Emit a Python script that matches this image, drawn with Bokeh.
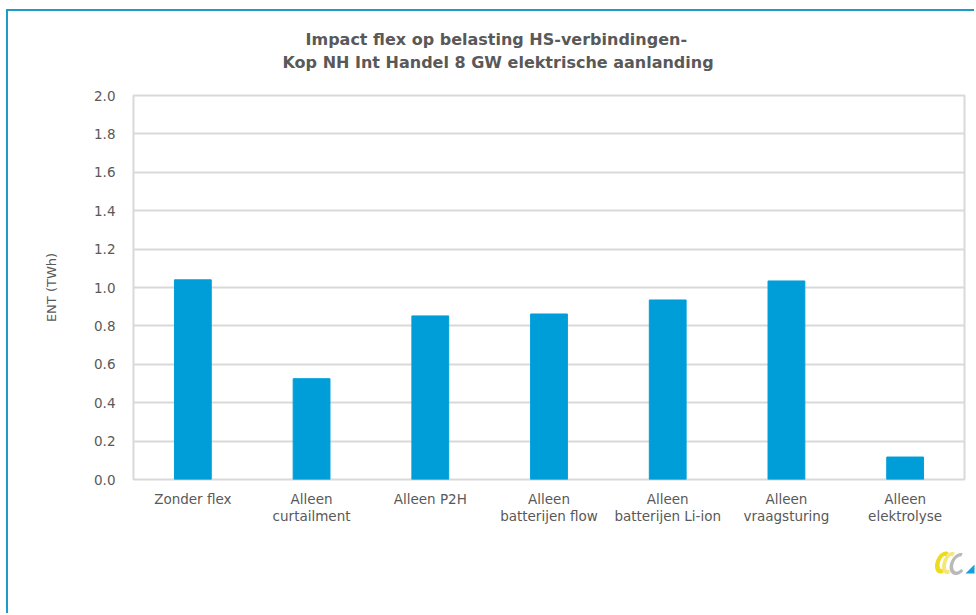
import math

from bokeh.plotting import figure
from bokeh.layouts import column, row
from bokeh.models import FixedTicker, Title, CustomJSTickFormatter, Range1d, Spacer
from bokeh.embed import file_html
from bokeh.resources import INLINE

categories = [
    "Zonder flex",
    "Alleen\ncurtailment",
    "Alleen P2H",
    "Alleen\nbatterijen flow",
    "Alleen\nbatterijen Li-ion",
    "Alleen\nvraagsturing",
    "Alleen\nelektrolyse",
]
ent_twh = [1.04, 0.525, 0.852, 0.862, 0.935, 1.034, 0.117]
y_ticks = [0.0, 0.2, 0.4, 0.6, 0.8, 1.0, 1.2, 1.4, 1.6, 1.8, 2.0]

title_lines = [
    "Impact flex op belasting HS-verbindingen-",
    "Kop NH Int Handel 8 GW elektrische aanlanding",
]

FONT = "DejaVu Sans"
TEXT = "#595959"
GRID = "#d9d9d9"
BAR = "#009ed9"
FRAME_BLUE = "#1f9bc8"
EDGE = f"2px solid {FRAME_BLUE}"

W, H = 968, 537
p = figure(
    x_range=categories,
    y_range=Range1d(0, 2.0),
    width=W,
    height=H,
    output_backend="svg",
    toolbar_location=None,
    min_border_left=125,
    min_border_right=12,
    min_border_top=84,
    min_border_bottom=69,
    styles={
        "margin-left": "6px",
        "margin-top": "9px",
        "border-left": EDGE,
        "border-top": EDGE,
    },
)

p.vbar(x=categories, top=ent_twh, width=0.31, color=BAR)

# Titles stack outward from the frame: first an empty spacer line that keeps
# the text clear of the plot, then the two title lines, each left-aligned with
# its own shift so that both sit centred over the whole chart.
p.add_layout(
    Title(text=" ", text_font=FONT, text_font_size="16px", standoff=2),
    "above",
)
for line, shift in zip(reversed(title_lines), (149, 172)):
    p.add_layout(
        Title(
            text=line,
            align="left",
            offset=shift,
            text_font=FONT,
            text_font_size="16px",
            text_font_style="bold",
            text_color=TEXT,
            standoff=2,
        ),
        "above",
    )

p.outline_line_color = GRID
p.outline_line_width = 2

p.xgrid.grid_line_color = None
p.ygrid.grid_line_color = GRID
p.ygrid.grid_line_width = 2

p.yaxis.ticker = FixedTicker(ticks=y_ticks)
p.yaxis.formatter = CustomJSTickFormatter(code="return tick.toFixed(1);")
p.yaxis.axis_label = "ENT (TWh)"
p.yaxis.axis_label_standoff = 32
p.yaxis.axis_label_text_font = FONT
p.yaxis.axis_label_text_font_size = "13px"
p.yaxis.axis_label_text_font_style = "normal"
p.yaxis.axis_label_text_color = TEXT

for ax in (p.xaxis, p.yaxis):
    ax.axis_line_color = None
    ax.major_tick_line_color = None
    ax.minor_tick_line_color = None
    ax.major_label_text_font = FONT
    ax.major_label_text_font_size = "13.5px"
    ax.major_label_text_color = TEXT

p.yaxis.major_label_standoff = 12
p.xaxis.major_label_standoff = 5
p.xaxis.major_label_text_line_height = 1.1

p.background_fill_color = "white"
p.border_fill_color = "white"


# small corner logo: two yellow ribbons, a grey ribbon and a blue arrow head,
# drawn in a tiny figure of its own (pixel coordinates, y pointing down)
LOGO_W, LOGO_H = 44, 67
logo = figure(
    width=LOGO_W,
    height=LOGO_H,
    x_range=Range1d(0, LOGO_W),
    y_range=Range1d(LOGO_H, 0),
    output_backend="svg",
    toolbar_location=None,
    min_border=0,
)
logo.axis.visible = False
logo.grid.visible = False
logo.outline_line_color = None
logo.background_fill_color = "white"
logo.border_fill_color = "white"


def ribbon(cx, cy, rx, ry, thick, a0, a1, slant=0.25, n=40):
    outer, inner = [], []
    for i in range(n + 1):
        a = math.radians(a0 + (a1 - a0) * i / n)
        for r_x, r_y, pts in ((rx, ry, outer), (rx - thick, ry - thick, inner)):
            y = cy - r_y * math.sin(a)
            x = cx + r_x * math.cos(a) + slant * (cy - y)
            pts.append((x, y))
    return outer + inner[::-1]


logo_parts = [
    (ribbon(10.5, 16.0, 7.5, 11, 4.5, 65, 295), "#eedb20"),
    (ribbon(17.0, 16.5, 7.0, 11, 4.0, 65, 295), "#f4e87c"),
    (ribbon(26.0, 17.5, 8.5, 11, 3.5, 80, 320), "#b9b9b9"),
    ([(33.0, 27.0), (42.0, 27.0), (42.0, 18.0)], "#14a0dc"),
]
logo.patches(
    xs=[[x for x, _ in pts] for pts, _ in logo_parts],
    ys=[[y for _, y in pts] for pts, _ in logo_parts],
    fill_color=[c for _, c in logo_parts],
    line_color=None,
)

bottom_strip = row(
    Spacer(width=W - LOGO_W, height=LOGO_H),
    logo,
    styles={"margin-left": "6px", "border-left": EDGE},
)

page = column(p, bottom_strip, spacing=0)

open("out.html", "w").write(file_html(page, INLINE))
